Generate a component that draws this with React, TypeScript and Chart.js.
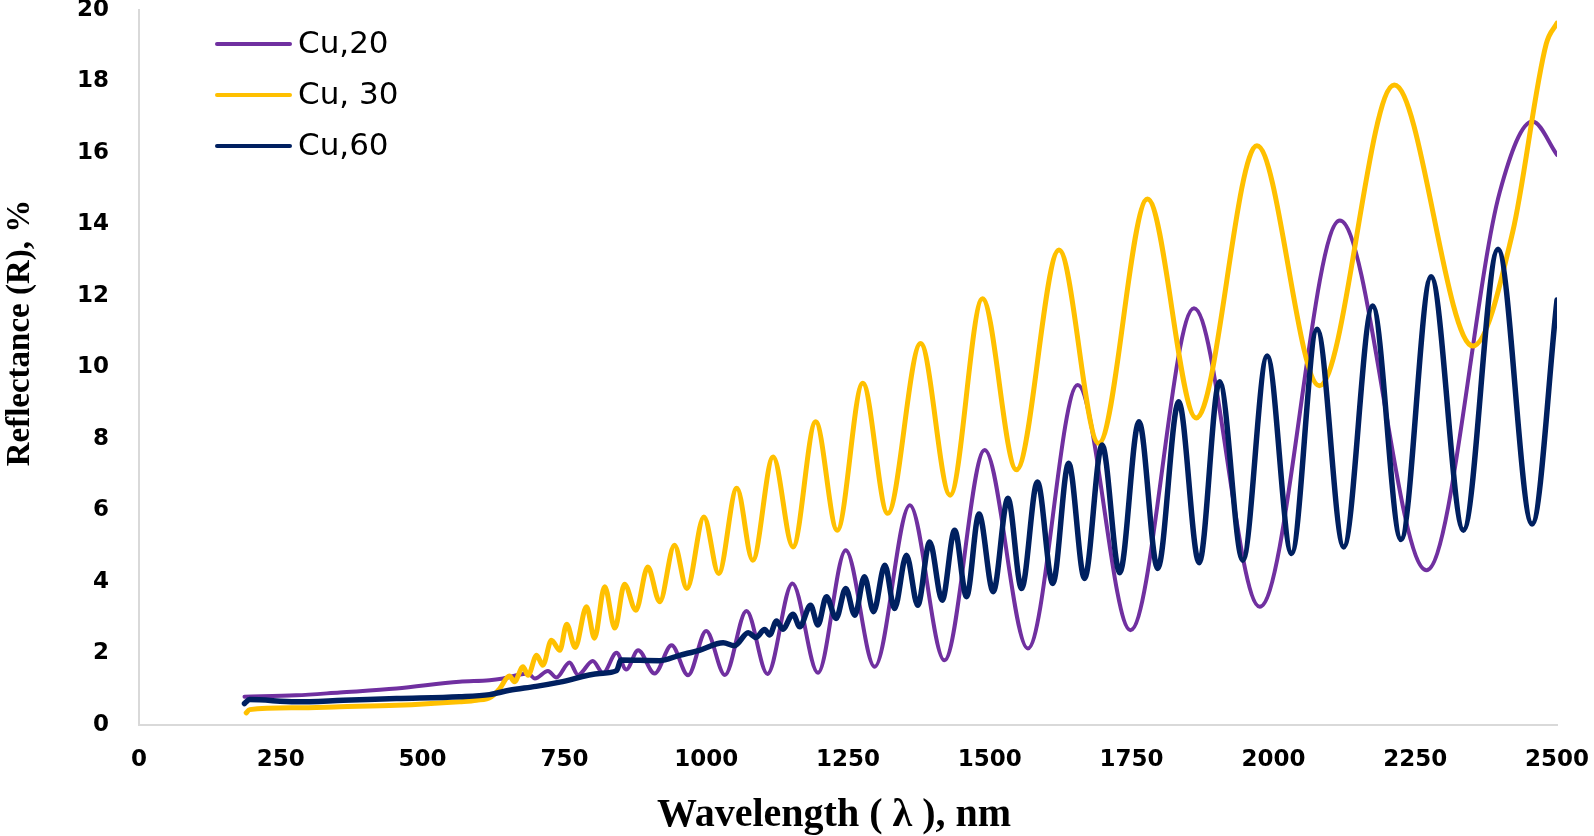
import React, { useEffect, useRef } from "react";
import { Chart, registerables } from "chart.js";

Chart.register(...registerables);

// Wavelength (nm) and reflectance (%) (extrema + shape points)
const cu20Wl = [186, 277, 354, 454, 565, 618, 642, 686, 698, 721, 736, 759, 774, 800, 818, 842, 859, 880, 909, 939, 968, 1000, 1033, 1071, 1108, 1152, 1197, 1246, 1297, 1359, 1420, 1491, 1567, 1655, 1748, 1860, 1976, 2117, 2270, 2399, 2457, 2500];
const cu20R = [0.79, 0.83, 0.91, 1.02, 1.21, 1.25, 1.3, 1.44, 1.3, 1.51, 1.33, 1.75, 1.4, 1.79, 1.45, 2.02, 1.55, 2.09, 1.44, 2.23, 1.39, 2.63, 1.4, 3.19, 1.43, 3.96, 1.46, 4.89, 1.63, 6.15, 1.81, 7.69, 2.14, 9.51, 2.65, 11.66, 3.31, 14.11, 4.33, 14.9, 16.88, 15.95];

const cu30Wl = [189, 195, 277, 354, 454, 565, 595, 621, 636, 653, 662, 677, 686, 701, 712, 727, 742, 754, 769, 789, 803, 821, 839, 856, 876, 897, 918, 944, 966, 996, 1022, 1054, 1082, 1118, 1153, 1193, 1231, 1276, 1320, 1378, 1430, 1487, 1547, 1622, 1692, 1778, 1864, 1971, 2081, 2213, 2352, 2422, 2481, 2500];
const cu30R = [0.34, 0.43, 0.48, 0.51, 0.55, 0.65, 0.69, 0.79, 1.02, 1.37, 1.21, 1.63, 1.39, 1.95, 1.67, 2.37, 2.09, 2.82, 2.17, 3.31, 2.43, 3.87, 2.71, 3.94, 3.21, 4.42, 3.45, 5.03, 3.82, 5.82, 4.24, 6.62, 4.61, 7.5, 4.98, 8.48, 5.45, 9.56, 5.92, 10.67, 6.43, 11.92, 7.14, 13.29, 7.88, 14.71, 8.59, 16.2, 9.49, 17.9, 10.6, 13.8, 19.05, 19.63];

const cu60Wl = [186, 195, 277, 360, 454, 565, 618, 653, 700, 742, 812, 842, 850, 918, 953, 988, 1030, 1050, 1074, 1088, 1103, 1112, 1124, 1135, 1153, 1165, 1184, 1197, 1212, 1229, 1246, 1262, 1279, 1295, 1315, 1332, 1353, 1373, 1394, 1416, 1438, 1459, 1481, 1506, 1532, 1556, 1584, 1611, 1639, 1667, 1698, 1729, 1763, 1796, 1833, 1869, 1905, 1946, 1989, 2032, 2077, 2124, 2175, 2225, 2278, 2335, 2396, 2456, 2500];
const cu60R = [0.6, 0.71, 0.65, 0.69, 0.74, 0.79, 0.85, 0.97, 1.08, 1.2, 1.44, 1.52, 1.82, 1.8, 1.95, 2.09, 2.3, 2.22, 2.58, 2.45, 2.67, 2.52, 2.91, 2.68, 3.1, 2.75, 3.35, 2.8, 3.59, 2.98, 3.82, 3.07, 4.15, 3.17, 4.47, 3.26, 4.75, 3.35, 5.12, 3.49, 5.45, 3.59, 5.9, 3.73, 6.34, 3.82, 6.8, 3.96, 7.32, 4.1, 7.83, 4.26, 8.48, 4.38, 9.04, 4.54, 9.6, 4.61, 10.32, 4.8, 11.07, 4.98, 11.72, 5.19, 12.54, 5.45, 13.31, 5.62, 11.89];

const seriesLabels = ["Cu,20", "Cu, 30", "Cu,60"];
const seriesColors = ["#7030A0", "#FFC000", "#002060"];
const xTitle = "Wavelength ( \u03BB ), nm";
const yTitle = "Reflectance (R), %";

const toPoints = (xs: number[], ys: number[]) => xs.map((x, i) => ({ x, y: ys[i] }));

export default function App() {
  const ref = useRef<HTMLCanvasElement | null>(null);

  useEffect(() => {
    if (!ref.current) return;
    const overlay = {
      id: "overlay",
      afterDraw(chart: any) {
        const ctx = chart.ctx;
        ctx.save();
        ctx.fillStyle = "#000";
        ctx.textAlign = "center";
        ctx.textBaseline = "middle";
        ctx.font = 'bold 40px "Liberation Serif"';
        ctx.fillText(xTitle, 834, 816);
        ctx.save();
        ctx.translate(20, 333);
        ctx.rotate(-Math.PI / 2);
        ctx.font = 'bold 33px "Liberation Serif"';
        ctx.fillText(yTitle, 0, 0);
        ctx.restore();
        // legend
        const ys = [44, 95, 146];
        ctx.textAlign = "left";
        ctx.font = '31px "DejaVu Sans"';
        seriesLabels.forEach((lab, i) => {
          ctx.strokeStyle = seriesColors[i];
          ctx.lineWidth = 4;
          ctx.lineCap = "round";
          ctx.beginPath();
          ctx.moveTo(217, ys[i]);
          ctx.lineTo(290, ys[i]);
          ctx.stroke();
          ctx.fillStyle = "#000";
          ctx.fillText(lab, 298, ys[i] + 1);
        });
        ctx.restore();
      },
    };

    const tickFont = { family: '"DejaVu Sans"', weight: "bold", size: 23 };

    const chart = new Chart(ref.current, {
      type: "line",
      data: {
        datasets: [
          { label: seriesLabels[0], data: toPoints(cu20Wl, cu20R), borderColor: seriesColors[0], borderWidth: 4, order: 2 },
          { label: seriesLabels[1], data: toPoints(cu30Wl, cu30R), borderColor: seriesColors[1], borderWidth: 5, order: 1 },
          { label: seriesLabels[2], data: toPoints(cu60Wl, cu60R), borderColor: seriesColors[2], borderWidth: 5.5, order: 0 },
        ] as any,
      },
      options: {
        animation: false,
        responsive: false,
        events: [],
        layout: { padding: { top: 10, right: 37, left: 0, bottom: 0 } },
        elements: {
          point: { radius: 0 },
          line: { cubicInterpolationMode: "monotone", borderJoinStyle: "round", borderCapStyle: "round", fill: false },
        },
        plugins: { legend: { display: false }, tooltip: { enabled: false } },
        scales: {
          x: {
            type: "linear",
            min: 0,
            max: 2500,
            grid: { display: false, drawTicks: false },
            border: { display: true, color: "#d9d9d9", width: 2 },
            ticks: {
              stepSize: 250,
              autoSkip: false,
              maxRotation: 0,
              padding: 21,
              color: "#000",
              font: tickFont,
              callback: (v: any) => String(v),
            },
            afterFit(scale: any) {
              scale.height = 111;
              scale.paddingLeft = 0;
              scale.paddingRight = 0;
            },
          },
          y: {
            min: 0,
            max: 20,
            grid: { display: false, drawTicks: false },
            border: { display: true, color: "#d9d9d9", width: 2 },
            ticks: {
              stepSize: 2,
              padding: 30,
              color: "#000",
              font: tickFont,
              callback: (v: any) => String(v),
            },
            afterFit(scale: any) {
              scale.width = 139;
              scale.paddingTop = 0;
              scale.paddingBottom = 0;
            },
          },
        },
      } as any,
      plugins: [overlay],
    });
    return () => chart.destroy();
  }, []);

  return (
    <div style={{ position: "absolute", left: 0, top: 0, width: 1594, height: 836, background: "#fff" }}>
      <canvas ref={ref} width={1594} height={836} />
    </div>
  );
}
